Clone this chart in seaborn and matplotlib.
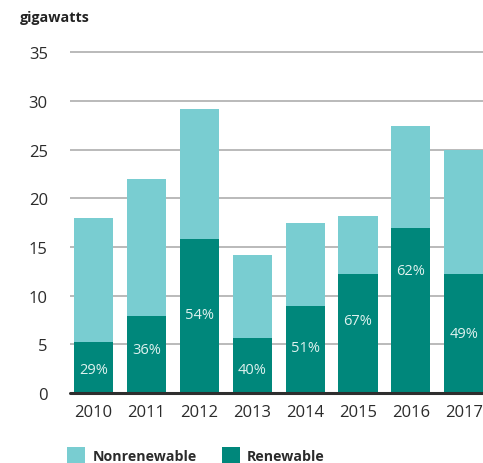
import matplotlib
matplotlib.use("Agg")
import matplotlib.pyplot as plt
from matplotlib.patches import Patch
import seaborn as sns
import pandas as pd

# Capacity additions per year, in gigawatts
years = ["2010", "2011", "2012", "2013", "2014", "2015", "2016", "2017"]
total_gw = [18.0, 22.0, 29.2, 14.2, 17.5, 18.2, 27.4, 25.0]
renewable_share_pct = [29, 36, 54, 40, 51, 67, 62, 49]
# Where each share label sits, as a fraction of the renewable segment height
label_height_frac = [0.46, 0.56, 0.51, 0.42, 0.52, 0.61, 0.74, 0.50]

series_names = ["Nonrenewable", "Renewable"]
y_ticks = [0, 5, 10, 15, 20, 25, 30, 35]

renewable_gw = [t * p / 100 for t, p in zip(total_gw, renewable_share_pct)]
df = pd.DataFrame({"year": years, "total": total_gw, "renewable": renewable_gw})

LIGHT = "#79CDD1"
DARK = "#00877B"
TEXT = "#2b2b2b"

sns.set_theme(style="white")
plt.rcParams["font.family"] = ["Open Sans", "DejaVu Sans"]

W, H = 483, 464
fig = plt.figure(figsize=(W / 100, H / 100), dpi=100)
fig.patch.set_facecolor("white")

ax_left, ax_right = 70, 483
ax_bottom_px = 394.0
px_per_unit = 9.74
ymax = 36.0
ax_top_px = ax_bottom_px - ymax * px_per_unit
ax = fig.add_axes([ax_left / W, (H - ax_bottom_px) / H,
                   (ax_right - ax_left) / W, (ax_bottom_px - ax_top_px) / H])
ax.set_facecolor("white")

bar_w = 0.74
sns.barplot(data=df, x="year", y="total", color=LIGHT, saturation=1,
            width=bar_w, linewidth=0, edgecolor="none", ax=ax, zorder=2)
sns.barplot(data=df, x="year", y="renewable", color=DARK, saturation=1,
            width=bar_w, linewidth=0, edgecolor="none", ax=ax, zorder=3)

for i, (r, p, f) in enumerate(zip(renewable_gw, renewable_share_pct, label_height_frac)):
    ax.text(i, r * f, f"{p}%", ha="center", va="center", fontsize=10.5,
            color="#dff2ef", zorder=4)

ax.set_xlim(-0.444, 7.363)
ax.set_ylim(0, ymax)
ax.set_yticks(y_ticks)
ax.set_yticklabels([str(v) for v in y_ticks])
for v in y_ticks[1:]:
    ax.axhline(v, color="#b4b4b4", lw=1.3, zorder=1)
ax.axhline(0, color="#2e2e2e", lw=2.2, zorder=5, clip_on=False)

for s in ax.spines.values():
    s.set_visible(False)
ax.tick_params(axis="y", length=0, pad=16, labelsize=12, labelcolor=TEXT)
ax.tick_params(axis="x", length=0, pad=8, labelsize=12, labelcolor=TEXT)
ax.set_xlabel("")
ax.set_ylabel("")
ax.grid(False)

fig.text(20 / W, 1 - 18 / H, "gigawatts", ha="left", va="center",
         fontsize=10.3, fontweight="bold", color="#222222")

handles = [Patch(facecolor=LIGHT, edgecolor="none"),
           Patch(facecolor=DARK, edgecolor="none")]
leg = fig.legend(handles, series_names, loc="center left",
                 bbox_to_anchor=(67 / W, 1 - 456 / H), ncol=2, frameon=False,
                 prop={"weight": "bold", "size": 10.2},
                 handlelength=1.3, handleheight=1.4, handletextpad=0.5,
                 columnspacing=1.75, borderaxespad=0, borderpad=0)
for t in leg.get_texts():
    t.set_color(TEXT)

fig.savefig("out.png", dpi=100, facecolor="white")
